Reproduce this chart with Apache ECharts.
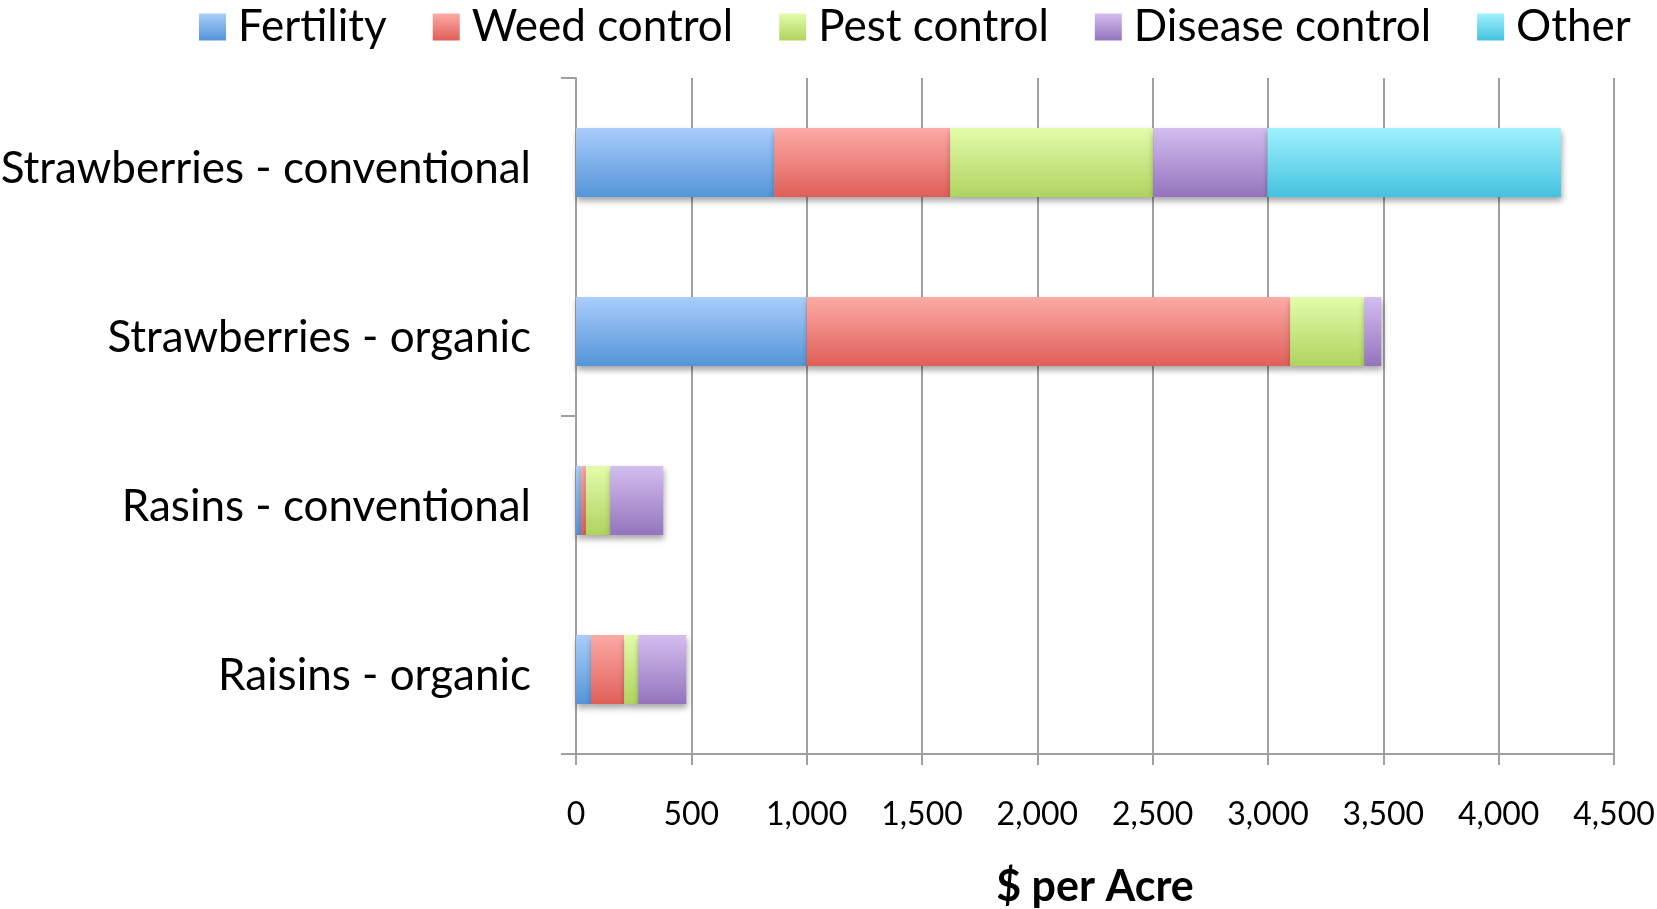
<!DOCTYPE html>
<html>
<head>
<meta charset="utf-8">
<script src="https://cdn.jsdelivr.net/npm/echarts@6/dist/echarts.min.js"></script>
<style>html,body{margin:0;padding:0;background:#fff}#c{width:1657px;height:909px}</style>
</head>
<body>
<div id="c"></div>
<script>
const categories = ['Strawberries - conventional', 'Strawberries - organic', 'Rasins - conventional', 'Raisins - organic'];
const seriesNames = ['Fertility', 'Weed control', 'Pest control', 'Disease control', 'Other'];
const fertility = [860, 1000, 22, 65];
const weedControl = [762, 2096, 21, 144];
const pestControl = [880, 321, 105, 61];
const diseaseControl = [495, 74, 230, 208];
const other = [1273, 0, 0, 0];
const xTicks = [0, 500, 1000, 1500, 2000, 2500, 3000, 3500, 4000, 4500];

const valuesList = [fertility, weedControl, pestControl, diseaseControl, other];
const gradients = [
  ['#aacdfb', '#5495d8'],
  ['#fdaaa6', '#df5f58'],
  ['#e3fcab', '#afd35f'],
  ['#d3beef', '#9474bd'],
  ['#a0f1fe', '#44c2df']
];
const FONT = 'Lato';

const chart = echarts.init(document.getElementById('c'));
chart.setOption({
  animation: false,
  backgroundColor: '#fff',
  textStyle: { fontFamily: FONT },
  legend: {
    data: seriesNames,
    left: 194,
    top: 0,
    icon: 'rect',
    itemWidth: 27,
    itemHeight: 27,
    itemGap: 46,
    textStyle: { fontSize: 44, color: '#000', fontFamily: FONT, padding: [0, 0, 0, 7] }
  },
  grid: { left: 576, right: 43, top: 78, bottom: 155, containLabel: false, outerBoundsMode: 'none' },
  xAxis: {
    type: 'value',
    min: xTicks[0],
    max: xTicks[xTicks.length - 1],
    interval: xTicks[1] - xTicks[0],
    name: '$ per Acre',
    nameLocation: 'middle',
    nameGap: 112,
    nameTextStyle: { fontSize: 43, fontWeight: 'bold', color: '#000', fontFamily: FONT },
    axisLine: { show: true, lineStyle: { color: '#a0a0a0', width: 2 } },
    axisTick: { show: true, length: 11, lineStyle: { color: '#a0a0a0', width: 2 } },
    splitLine: { show: true, lineStyle: { color: '#a0a0a0', width: 2 } },
    axisLabel: {
      fontSize: 32,
      color: '#000',
      fontFamily: FONT,
      margin: 45,
      formatter: v => v.toLocaleString('en-US')
    }
  },
  yAxis: {
    type: 'category',
    data: categories,
    inverse: true,
    axisLine: { show: true, lineStyle: { color: '#a0a0a0', width: 2 } },
    axisTick: { show: true, length: 15, interval: (i) => i % 2 === 0, lineStyle: { color: '#a0a0a0', width: 2 } },
    axisLabel: { fontSize: 44, color: '#000', fontFamily: FONT, margin: 45, interval: 0, verticalAlign: 'top', lineHeight: 12 }
  },
  series: valuesList.map((vals, i) => ({
    name: seriesNames[i],
    type: 'bar',
    stack: 'total',
    barWidth: 69,
    data: vals,
    itemStyle: {
      color: {
        type: 'linear', x: 0, y: 0, x2: 0, y2: 1,
        colorStops: [{ offset: 0, color: gradients[i][0] }, { offset: 1, color: gradients[i][1] }]
      },
      shadowColor: 'rgba(0,0,0,0.35)',
      shadowBlur: 6,
      shadowOffsetY: 4,
      shadowOffsetX: 1
    }
  }))
});
</script>
</body>
</html>
